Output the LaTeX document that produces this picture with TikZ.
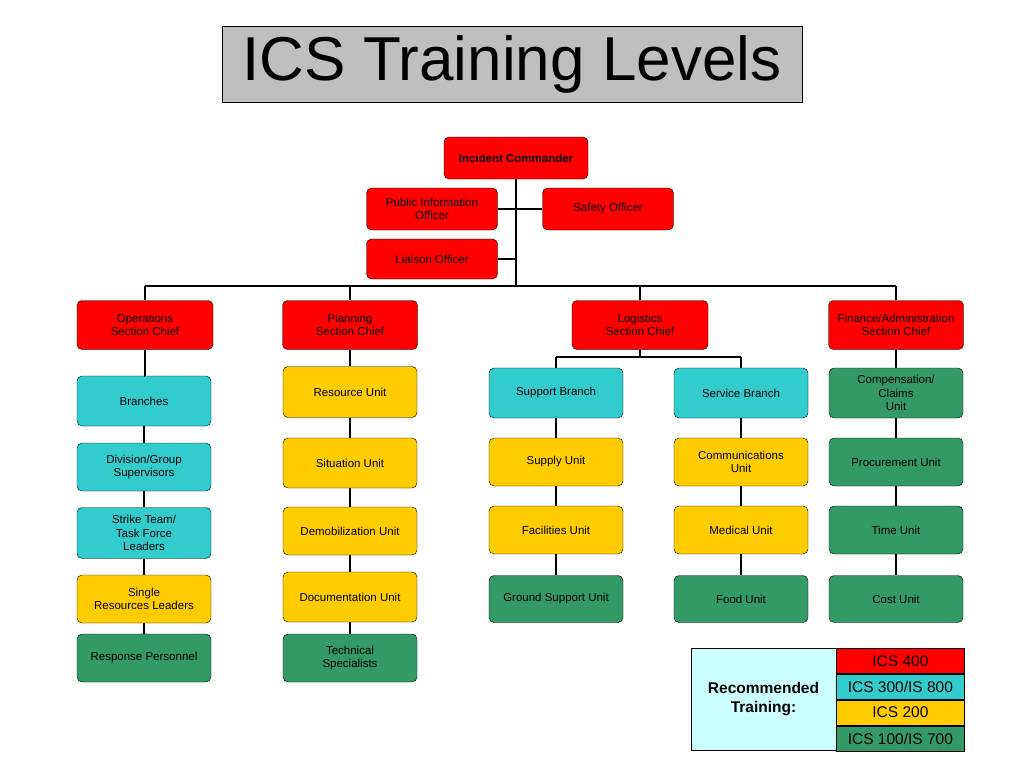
\documentclass[tikz,border=0pt]{standalone}
\usepackage{fontspec}
\setmainfont{Liberation Sans}
\usetikzlibrary{calc}
\definecolor{icsred}{HTML}{FF0000}
\definecolor{icsteal}{HTML}{33CCCC}
\definecolor{icsyellow}{HTML}{FFCC00}
\definecolor{icsgreen}{HTML}{339966}
\definecolor{icslight}{HTML}{CCFFFF}
\tikzset{
  unit/.style={draw=black,rounded corners=5pt,minimum width=134pt,minimum height=48pt,
    align=center,font=\fontsize{11.5}{13.5}\selectfont,inner sep=1pt},
  redbox/.style={unit,fill=icsred},
  tealbox/.style={unit,fill=icsteal},
  yellowbox/.style={unit,fill=icsyellow},
  greenbox/.style={unit,fill=icsgreen},
  link/.style={line width=2.6pt},
  cell/.style={draw=black,minimum width=128pt,minimum height=25.5pt,inner sep=0pt,
    font=\fontsize{15.5}{18}\selectfont},
}
\begin{document}
\begin{tikzpicture}[x=1pt,y=-1pt]
      \useasboundingbox (0,0) rectangle (1024,768);
      \node[draw=black,fill=black!25,minimum width=580pt,minimum height=76pt,
        font=\fontsize{62}{70}\selectfont] (title) at (512,64) {ICS Training Levels};
      % command staff
      \node[redbox,minimum width=144pt,minimum height=42pt,font=\fontsize{11.5}{13.5}\bfseries] (ic) at (516,158) {Incident Commander};
      \node[redbox,minimum width=131pt,minimum height=42pt] (pio) at (432,209) {Public Information\\Officer};
      \node[redbox,minimum width=131pt,minimum height=42pt] (safety) at (608,209) {Safety Officer};
      \node[redbox,minimum width=131pt,minimum height=40pt] (liaison) at (432,259) {Liaison Officer};
      \coordinate (trunk) at (516,286);
      \draw[link] (ic.south) -- (trunk);
      \draw[link] (pio.east) -- (pio.east -| trunk);
      \draw[link] (safety.west) -- (safety.west -| trunk);
      \draw[link] (liaison.east) -- (liaison.east -| trunk);
      % section chiefs
      \node[redbox,minimum width=136pt,minimum height=49pt] (ops) at (145,325) {Operations\\Section Chief};
      \node[redbox,minimum width=135pt,minimum height=49pt] (plan) at (350,325) {Planning\\Section Chief};
      \node[redbox,minimum width=136pt,minimum height=49pt] (log) at (640,325) {Logistics\\Section Chief};
      \node[redbox,minimum width=135pt,minimum height=49pt] (fin) at (896,325) {Finance/Administration\\Section Chief};
      \draw[link] (ops.north |- trunk) -- (fin.north |- trunk);
      \foreach \s in {ops,plan,log,fin}
        \draw[link] (\s.north) -- (\s.north |- trunk);
      % operations
      \node[tealbox,minimum height=50pt] (branches) at (144,401) {Branches};
      \node[tealbox] (division) at (144,467) {Division/Group\\Supervisors};
      \node[tealbox,minimum height=51pt] (strike) at (144,533) {Strike Team/\\Task Force\\Leaders};
      \node[yellowbox] (single) at (144,599) {Single\\Resources Leaders};
      \node[greenbox] (response) at (144,658) {Response Personnel};
      \draw[link] (branches.north -| ops) -- (branches.north);
      \draw[link] (ops.south |- branches.north) -- (ops.south);
      \draw[link] (branches) -- (division);
      \draw[link] (division) -- (strike);
      \draw[link] (strike) -- (single);
      \draw[link] (single) -- (response);
      % planning
      \node[yellowbox,minimum height=51pt] (resource) at (350,392) {Resource Unit};
      \node[yellowbox,minimum height=50pt] (situation) at (350,463) {Situation Unit};
      \node[yellowbox] (demob) at (350,531) {Demobilization Unit};
      \node[yellowbox,minimum height=50pt] (documentation) at (350,597) {Documentation Unit};
      \node[greenbox] (technical) at (350,658) {Technical\\Specialists};
      \draw[link] (plan) -- (resource);
      \draw[link] (resource) -- (situation);
      \draw[link] (situation) -- (demob);
      \draw[link] (demob) -- (documentation);
      \draw[link] (documentation) -- (technical);
      % logistics
      \coordinate (logbus) at (640,357);
      \node[tealbox,minimum height=50pt] (support) at (556,393) {Support Branch};
      \node[tealbox,minimum height=50pt] (service) at (741,393) {Service Branch};
      \node[yellowbox] (supply) at (556,462) {Supply Unit};
      \node[yellowbox] (facilities) at (556,530) {Facilities Unit};
      \node[greenbox,minimum height=47pt] (ground) at (556,599) {Ground Support Unit};
      \node[yellowbox] (comms) at (741,462) {Communications\\Unit};
      \node[yellowbox] (medical) at (741,530) {Medical Unit};
      \node[greenbox,minimum height=47pt] (food) at (741,599) {Food Unit};
      \draw[link] (log.south) -- (logbus);
      \draw[link] (support.north |- logbus) -- (service.north |- logbus);
      \draw[link] (support.north |- logbus) -- (support.north);
      \draw[link] (service.north |- logbus) -- (service.north);
      \draw[link] (support) -- (supply);
      \draw[link] (supply) -- (facilities);
      \draw[link] (facilities) -- (ground);
      \draw[link] (service) -- (comms);
      \draw[link] (comms) -- (medical);
      \draw[link] (medical) -- (food);
      % finance
      \node[greenbox,minimum height=50pt] (comp) at (896,393) {Compensation/\\Claims\\Unit};
      \node[greenbox] (procurement) at (896,462) {Procurement Unit};
      \node[greenbox] (time) at (896,530) {Time Unit};
      \node[greenbox,minimum height=47pt] (cost) at (896,599) {Cost Unit};
      \draw[link] (fin) -- (comp);
      \draw[link] (comp) -- (procurement);
      \draw[link] (procurement) -- (time);
      \draw[link] (time) -- (cost);
      % legend
      \node[draw=black,fill=icslight,minimum width=145pt,minimum height=102pt,align=center,
        font=\fontsize{15.5}{19}\bfseries] (legend) at (763.5,699) {Recommended\\Training:};
      \node[cell,fill=icsred,anchor=north west] (l400) at (legend.north east) {ICS 400};
      \node[cell,fill=icsteal,anchor=north] (l300) at (l400.south) {ICS 300/IS 800};
      \node[cell,fill=icsyellow,anchor=north] (l200) at (l300.south) {ICS 200};
      \node[cell,fill=icsgreen,anchor=north] (l100) at (l200.south) {ICS 100/IS 700};
\end{tikzpicture}
\end{document}
